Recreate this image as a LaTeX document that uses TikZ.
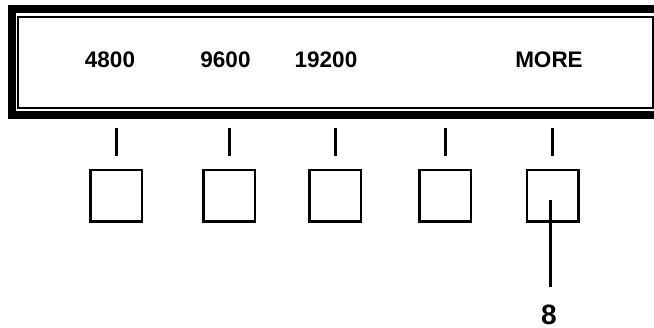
\documentclass[tikz,border=0pt]{standalone}
\usepackage{fontspec}
\setmainfont{Liberation Sans}
\usetikzlibrary{positioning}

\begin{document}
\begin{tikzpicture}[
        x=1pt, y=-1pt,
        every node/.style={font=\bfseries\fontsize{22.5}{22.5}\selectfont},
        softkey/.style={draw, line width=2.5pt, minimum size=51.5pt, inner sep=0pt},
        stemline/.style={line width=3pt},
        label/.style={anchor=base}
    ]
        \useasboundingbox (0,0) rectangle (654,328);

        % display frame
        \draw[line width=8pt] (11.5,9) rectangle (664,115.5);
        \draw[line width=2pt] (17.75,17.5) rectangle (652.5,108);

        % soft key labels
        \node[label] (lbl1) at (110,67.5) {4800};
        \node[label] (lbl2) at (225.5,67.5) {9600};
        \node[label] (lbl3) at (326,67.5) {19200};
        \node[label] (lbl5) at (549,67.5) {MORE};

        % soft keys
        \node[softkey] (key1) at (116,196) {};
        \node[softkey] (key2) at (229,196) {};
        \node[softkey] (key3) at (335,196) {};
        \node[softkey] (key4) at (445,196) {};
        \node[softkey] (key5) at (552.5,196) {};

        \foreach \k in {1,...,5}
            \draw[stemline] (key\k.north) ++(0,-13) -- ++(0,-28);

        % callout
        \coordinate (tip) at (550,200);
        \node[font=\bfseries\fontsize{28}{28}\selectfont, anchor=base, inner sep=1pt] (num8) at (549,325) {8};
        \draw[stemline] (tip) -- (tip |- 0,287);
    \end{tikzpicture}
\end{document}
